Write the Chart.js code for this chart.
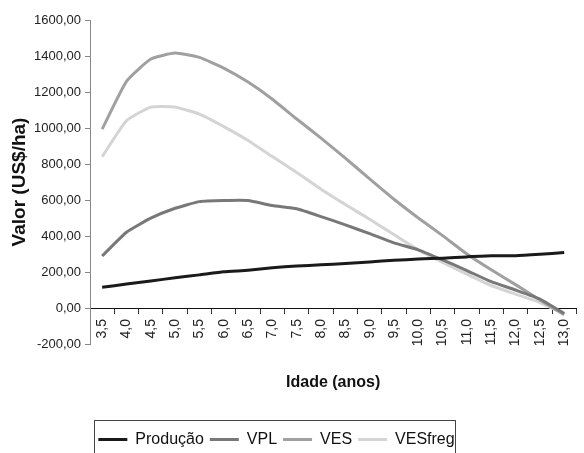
<!DOCTYPE html>
<html>
<head>
<meta charset="utf-8">
<script src="https://cdn.jsdelivr.net/npm/chart.js@4/dist/chart.umd.min.js"></script>
<style>
    html, body { margin: 0; padding: 0; background: #fff; overflow: hidden; }
    #chart { display: block; }
</style>
</head>
<body>
<canvas id="chart" width="587" height="453"></canvas>
<script>
// idade (anos)
const ages = ['3,5', '4,0', '4,5', '5,0', '5,5', '6,0', '6,5', '7,0', '7,5', '8,0',
    '8,5', '9,0', '9,5', '10,0', '10,5', '11,0', '11,5', '12,0', '12,5', '13,0'];

// valores em US$/ha
const producao = [115, 133, 150, 168, 184, 201, 210, 224, 233, 240, 247, 256, 265, 272, 277, 284, 290, 290, 298, 308];
const vpl = [289, 421, 499, 554, 591, 597, 597, 569, 551, 508, 462, 413, 362, 323, 267, 208, 146, 100, 50, -30];
const ves = [994, 1259, 1383, 1416, 1392, 1333, 1255, 1160, 1050, 944, 833, 717, 604, 500, 402, 300, 212, 130, 45, -38];
const vesFreg = [841, 1040, 1116, 1116, 1077, 1008, 931, 841, 753, 660, 575, 493, 408, 323, 253, 188, 125, 77, 30, -32];

const yMin = -200;
const yMax = 1600;
const yStep = 200;

const fontFamily = "'Liberation Sans', Arial, sans-serif";
const legendShift = {x: -17, y: 81.5};

function line(label, data, color) {
    return {
        label: label,
        data: data,
        borderColor: color,
        backgroundColor: color,
        borderWidth: 3,
        pointRadius: 0,
        tension: 0.15
    };
}

// legenda abaixo do titulo do eixo x, com moldura
const legendFrame = {
    id: 'legendFrame',
    afterUpdate(chart) {
        const lg = chart.legend;
        lg.left += legendShift.x;
        lg.right += legendShift.x;
        lg.top += legendShift.y;
        lg.bottom += legendShift.y;
    },
    afterDraw(chart) {
        const lg = chart.legend;
        const pad = lg.options.labels.padding;
        const w = lg.lineWidths[0];
        const start = (lg.left + pad + lg.right - w) / 2;
        const end = start + w - pad;
        const ctx = chart.ctx;
        ctx.save();
        ctx.strokeStyle = '#444';
        ctx.lineWidth = 1;
        ctx.strokeRect(Math.round(start - 4) + 0.5, Math.round(lg.top - 6) + 0.5, Math.round(end - start + 5), 60);
        ctx.restore();
    }
};

const ctx = document.getElementById('chart').getContext('2d');
const chart = new Chart(ctx, {
    type: 'line',
    data: {
        labels: ages,
        datasets: [
            line('Produção', producao, '#1a1a1a'),
            line('VPL', vpl, '#787878'),
            line('VES', ves, '#a0a0a0'),
            line('VESfreg', vesFreg, '#d4d4d4')
        ]
    },
    options: {
        responsive: false,
        animation: false,
        layout: {padding: {top: 20, bottom: 77, left: 0, right: 0}},
        plugins: {
            tooltip: {enabled: false},
            legend: {
                position: 'bottom',
                labels: {
                    color: '#111',
                    font: {family: fontFamily, size: 16},
                    boxWidth: 29,
                    boxHeight: 3,
                    padding: 6,
                    generateLabels: (c) => Chart.defaults.plugins.legend.labels.generateLabels(c)
                        .map(l => Object.assign(l, {lineWidth: 0}))
                }
            }
        },
        scales: {
            x: {
                position: {y: 0},
                offset: true,
                afterFit: (s) => { s.height = 84; },
                grid: {
                    offset: true,
                    drawOnChartArea: false,
                    drawTicks: true,
                    tickLength: 5,
                    color: '#333'
                },
                border: {display: true, color: '#111', width: 1},
                ticks: {
                    color: '#222',
                    font: {family: fontFamily, size: 14},
                    minRotation: 90,
                    maxRotation: 90,
                    autoSkip: false,
                    padding: 6
                },
                title: {
                    display: true,
                    text: 'Idade (anos)',
                    color: '#111',
                    font: {family: fontFamily, size: 16, weight: 'bold'},
                    padding: {top: 0, bottom: 0}
                }
            },
            y: {
                min: yMin,
                max: yMax,
                afterFit: (s) => { s.width = 90; },
                grid: {
                    drawOnChartArea: false,
                    drawTicks: true,
                    tickLength: 5,
                    color: '#888'
                },
                border: {display: true, color: '#888', width: 1},
                ticks: {
                    stepSize: yStep,
                    color: '#222',
                    font: {family: fontFamily, size: 13},
                    padding: 4,
                    callback: (v) => v.toFixed(2).replace('.', ',')
                },
                title: {
                    display: true,
                    text: 'Valor (US$/ha)',
                    color: '#111',
                    font: {family: fontFamily, size: 19, weight: 'bold'},
                    padding: {top: 8, bottom: 3}
                }
            }
        }
    },
    plugins: [legendFrame]
});
</script>
</body>
</html>
